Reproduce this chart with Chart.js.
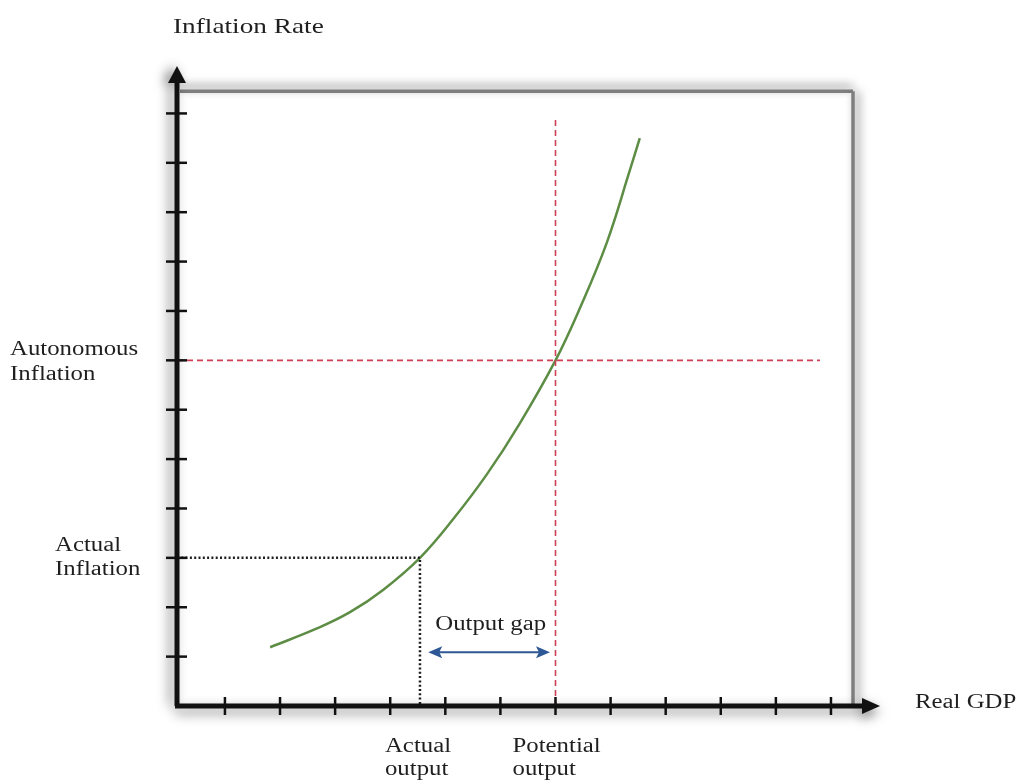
<!DOCTYPE html>
<html>
<head>
<meta charset="utf-8">
<title>Inflation and output gap</title>
<script src="https://cdn.jsdelivr.net/npm/chart.js@4.4.1/dist/chart.umd.min.js"></script>
<style>
  html, body { margin: 0; padding: 0; background: #ffffff; }
  canvas { display: block; }
</style>
</head>
<body>
<canvas id="chart" width="1017" height="781"></canvas>
<script>
// curve points (x = real GDP units, y = inflation units)
const curveX = [1.82, 2.67, 3.27, 3.87, 4.54, 5.14, 5.76, 6.35, 7.0, 7.44, 7.93, 8.35, 8.53];
const curveY = [1.19, 1.57, 1.9, 2.35, 3.0, 3.78, 4.7, 5.72, 7.0, 8.05, 9.38, 10.85, 11.5];

const xTicks = [1, 2, 3, 4, 5, 6, 7, 8, 9, 10, 11, 12];
const yTicks = [1, 2, 3, 4, 5, 6, 7, 8, 9, 10, 11, 12];

const potentialOutput = 7.0;
const actualOutput = 4.54;
const autonomousInflation = 7.0;
const actualInflation = 3.0;

const redVTop = 11.9;     // top of the potential output guide
const redHRight = 11.8;   // right end of the autonomous inflation guide
const gapArrow = [4.69, 6.9];
const gapArrowY = 1.09;

const xMin = 0.13, xMax = 12.89;
const yMin = 0, yMax = 12.92;
const frameTop = 12.45, frameRight = 12.4;

const TEXT = '#1f1f1f';
const SERIF = '"Liberation Serif", "Times New Roman", serif';

function label(ctx, s, x, y, size) {
  ctx.save();
  ctx.translate(x, y);
  ctx.scale(1.24, 1);
  ctx.font = size + 'px ' + SERIF;
  ctx.fillStyle = TEXT;
  ctx.textAlign = 'left';
  ctx.textBaseline = 'alphabetic';
  ctx.fillText(s, 0, 0);
  ctx.restore();
}

const diagram = {
  id: 'diagram',
  beforeDatasetsDraw(chart) {
    const ctx = chart.ctx;
    const xs = chart.scales.x, ys = chart.scales.y;
    const x0 = xs.getPixelForValue(xMin), y0 = ys.getPixelForValue(yMin);
    const fx = xs.getPixelForValue(frameRight), fy = ys.getPixelForValue(frameTop);
    // gray shadowed frame
    ctx.save();
    ctx.strokeStyle = '#7f7f7f';
    ctx.lineWidth = 3.5;
    ctx.shadowColor = 'rgba(0,0,0,0.55)';
    ctx.shadowBlur = 10;
    ctx.shadowOffsetY = -4;
    ctx.beginPath();
    ctx.moveTo(x0 + 3, fy);
    ctx.lineTo(fx, fy);
    ctx.stroke();
    ctx.shadowOffsetY = 0;
    ctx.shadowOffsetX = 4;
    ctx.beginPath();
    ctx.moveTo(fx, fy);
    ctx.lineTo(fx, y0);
    ctx.stroke();
    ctx.restore();
  },
  afterDatasetsDraw(chart) {
    const ctx = chart.ctx;
    const xs = chart.scales.x, ys = chart.scales.y;
    const x0 = xs.getPixelForValue(xMin), y0 = ys.getPixelForValue(yMin);
    const xEnd = xs.getPixelForValue(xMax), yEnd = ys.getPixelForValue(yMax);

    ctx.save();
    ctx.strokeStyle = '#111111';
    ctx.fillStyle = '#111111';
    ctx.lineWidth = 5;
    ctx.shadowColor = 'rgba(0,0,0,0.5)';
    ctx.shadowBlur = 12;
    // y axis
    ctx.shadowOffsetX = -5;
    ctx.beginPath();
    ctx.moveTo(x0, y0);
    ctx.lineTo(x0, yEnd + 12);
    ctx.stroke();
    ctx.beginPath();
    ctx.moveTo(x0, yEnd - 2);
    ctx.lineTo(x0 - 9, yEnd + 15);
    ctx.lineTo(x0 + 9, yEnd + 15);
    ctx.closePath();
    ctx.fill();
    // x axis
    ctx.shadowOffsetX = 0;
    ctx.shadowOffsetY = 5;
    ctx.beginPath();
    ctx.moveTo(x0 - 2, y0);
    ctx.lineTo(xEnd - 14, y0);
    ctx.stroke();
    ctx.beginPath();
    ctx.moveTo(xEnd, y0);
    ctx.lineTo(xEnd - 18, y0 - 8);
    ctx.lineTo(xEnd - 18, y0 + 8);
    ctx.closePath();
    ctx.fill();
    ctx.restore();

    // tick marks
    ctx.save();
    ctx.strokeStyle = '#111111';
    ctx.lineWidth = 2.5;
    yTicks.forEach(v => {
      const py = ys.getPixelForValue(v);
      ctx.beginPath();
      ctx.moveTo(x0 - 11, py);
      ctx.lineTo(x0 + 10, py);
      ctx.stroke();
    });
    xTicks.forEach(v => {
      const px = xs.getPixelForValue(v);
      ctx.beginPath();
      ctx.moveTo(px, y0 - 9);
      ctx.lineTo(px, y0 + 9);
      ctx.stroke();
    });
    ctx.restore();

    // output gap arrow
    const ax1 = xs.getPixelForValue(gapArrow[0]);
    const ax2 = xs.getPixelForValue(gapArrow[1]);
    const ay = ys.getPixelForValue(gapArrowY);
    ctx.save();
    ctx.strokeStyle = '#2e5795';
    ctx.fillStyle = '#2e5795';
    ctx.lineWidth = 2;
    ctx.beginPath();
    ctx.moveTo(ax1 + 8, ay);
    ctx.lineTo(ax2 - 8, ay);
    ctx.stroke();
    ctx.beginPath();
    ctx.moveTo(ax1, ay);
    ctx.lineTo(ax1 + 14, ay - 6);
    ctx.lineTo(ax1 + 11, ay);
    ctx.lineTo(ax1 + 14, ay + 6);
    ctx.closePath();
    ctx.fill();
    ctx.beginPath();
    ctx.moveTo(ax2, ay);
    ctx.lineTo(ax2 - 14, ay - 6);
    ctx.lineTo(ax2 - 11, ay);
    ctx.lineTo(ax2 - 14, ay + 6);
    ctx.closePath();
    ctx.fill();
    ctx.restore();

    // texts
    const pa = xs.getPixelForValue(actualOutput);
    const pp = xs.getPixelForValue(potentialOutput);
    const ya = ys.getPixelForValue(autonomousInflation);
    const yi = ys.getPixelForValue(actualInflation);
    label(ctx, 'Inflation Rate', x0 - 4, 33, 22);
    label(ctx, 'Autonomous', 10, ya - 5, 20);
    label(ctx, 'Inflation', 10, ya + 20, 20);
    label(ctx, 'Actual', 55, yi - 7, 20);
    label(ctx, 'Inflation', 55, yi + 17, 20);
    label(ctx, 'Actual', pa - 35, y0 + 46, 20);
    label(ctx, 'output', pa - 35, y0 + 69, 20);
    label(ctx, 'Potential', pp - 43, y0 + 46, 20);
    label(ctx, 'output', pp - 43, y0 + 69, 20);
    label(ctx, 'Real GDP', 915, y0 + 2, 20);
    label(ctx, 'Output gap', ax1 + 7, ay - 22, 20);
  }
};

const pts = (xa, ya) => xa.map((x, i) => ({ x: x, y: ya[i] }));

new Chart(document.getElementById('chart'), {
  type: 'scatter',
  data: {
    datasets: [
      {
        label: 'Potential output',
        data: [{ x: potentialOutput, y: yMin }, { x: potentialOutput, y: redVTop }],
        showLine: true, borderColor: '#cf3f55', borderWidth: 1.6, borderDash: [6, 4],
        pointRadius: 0
      },
      {
        label: 'Autonomous inflation',
        data: [{ x: xMin, y: autonomousInflation }, { x: redHRight, y: autonomousInflation }],
        showLine: true, borderColor: '#cf3f55', borderWidth: 1.6, borderDash: [6, 4],
        pointRadius: 0
      },
      {
        label: 'Actual',
        data: [{ x: xMin, y: actualInflation }, { x: actualOutput, y: actualInflation }, { x: actualOutput, y: yMin }],
        showLine: true, borderColor: '#1e1e1e', borderWidth: 2.5, borderDash: [2, 2.3],
        pointRadius: 0
      },
      {
        label: 'Curve',
        data: pts(curveX, curveY),
        showLine: true, borderColor: '#5d8d45', borderWidth: 2.5,
        tension: 0.4, pointRadius: 0
      }
    ]
  },
  options: {
    responsive: false,
    devicePixelRatio: 1,
    animation: false,
    layout: { padding: { left: 177, right: 137, top: 68, bottom: 75 } },
    scales: {
      x: { type: 'linear', min: xMin, max: xMax, display: false },
      y: { type: 'linear', min: yMin, max: yMax, display: false }
    },
    plugins: {
      legend: { display: false },
      tooltip: { enabled: false }
    }
  },
  plugins: [diagram]
});
</script>
</body>
</html>
